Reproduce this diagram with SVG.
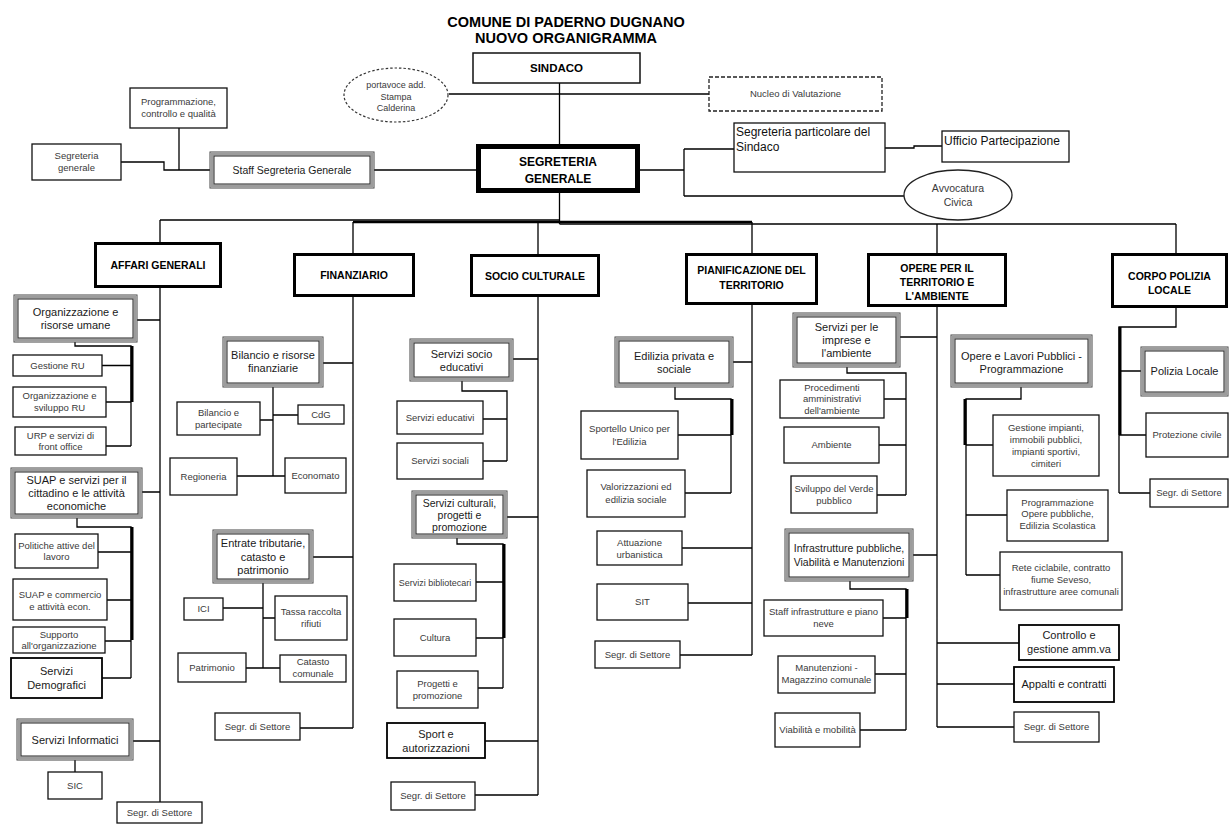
<svg xmlns="http://www.w3.org/2000/svg" width="1231" height="825" viewBox="0 0 1231 825">
<style>
text{font-family:"Liberation Sans",Arial,sans-serif;text-anchor:middle}
.s{font-size:9.5px;fill:#3a3a3a}
.m{font-size:11px;fill:#1a1a1a}
.h{font-size:10.5px;font-weight:bold;fill:#000}
.l{text-anchor:start;font-size:12px;fill:#111}
.b{fill:#fff;stroke:#111;stroke-width:1.3}
.k{fill:#fff;stroke:#000;stroke-width:1.8}
.d{fill:#fff;stroke:#000;stroke-width:3}
.g1{fill:#fff;stroke:#444;stroke-width:1}
.g2{fill:none;stroke:#9c9c9c;stroke-width:3}
.g3{fill:none;stroke:#222;stroke-width:1}
.c{fill:none;stroke:#000;stroke-width:1.3}
.ct{fill:none;stroke:#000;stroke-width:3}
</style>
<rect width="1231" height="825" fill="#fff"/>
<g id="connectors">
<path class="c" d="M559.5 83V146M449 94H709M121 162H164V170H210M179 128V170M374 170H476M640 170H684M684 149V196M684 149H734M684 196H904M885 148H914V146H942"/>
<path class="c" d="M559.5 193V224M160 220H559.5M559.5 224H1176"/>
<path class="c" style="stroke-width:2.6" d="M353 222H752"/>
<path class="c" d="M160 220V242M353 222V253M538 222V254M752 222V253M937 224V253M1176 224V253"/>
<path class="c" d="M160 288V802M137 320H160M75 342V346H131V446M102 365.5H131M106 402H131M106 446H131M142 492H160M77 518V527H131V678M98 552H131M107 600H131M105 641H131M102 678H131M133 741H160M75 760V772"/>
<path class="ct" d="M132 346V402M132 527V640"/>
<path class="c" d="M353 297V728M323 363H353M273 387V476M260 420H273M273 415H298M237 476H285M313 557H353M263 583V668M223 608H263M263 618H275M246 668H280M300 728H353"/>
<path class="c" d="M538 297V795M513 359H538M462 381V391H507V461M483 419H507M483 461H507M507 517H538M457 538V544H503V688M476 582H503M476 638H503M478 688H503M485 741H538M475 795H538"/>
<path class="ct" d="M504 544V638"/>
<path class="c" d="M752 305V655M733 362H752M675 387V399H731V493M678 435H731M685 493H731M682 548H752M688 603H752M680 655H752"/>
<path class="ct" d="M732 399V435"/>
<path class="c" d="M937 307V727M900 337H937M847 367V373H906V495M884 399H906M879 445H906M877 495H906M913 555H937M850 581V589H906V730M883 618H906M875 674H906M860 730H906M937 643H1019M937 684H1014M937 727H1014"/>
<path class="ct" d="M907 589V618"/>
<path class="c" d="M1021 387V399H966V575M966 445H993M966 515H1007M966 575H1000"/>
<path class="ct" d="M965 399V445"/>
<path class="c" d="M1176 308V327H1119V493M1119 371H1141M1119 435H1146M1119 493H1150"/>
<path class="ct" d="M1120 327V435"/>
</g>
<g id="title"><text x="566" y="27" style="font-size:14.5px;font-weight:bold">COMUNE DI PADERNO DUGNANO</text><text x="566" y="43" style="font-size:14.5px;font-weight:bold">NUOVO ORGANIGRAMMA</text></g>
<g id="sindaco"><rect class="b" x="473" y="53" width="167" height="30" style="stroke-width:1.5"/><text class="h" x="556.5" y="72" style="font-size:11.5px">SINDACO</text></g>
<g id="portavoce"><ellipse cx="396" cy="95" rx="52" ry="27" fill="#fff" stroke="#333" stroke-width="1.2" stroke-dasharray="2.5,2"/><text class="s" style="font-size:9px" x="396" y="88">portavoce add.</text><text class="s" style="font-size:9px" x="396" y="100">Stampa</text><text class="s" style="font-size:9px" x="396" y="111">Calderina</text></g>
<g id="nucleo"><rect x="709" y="77" width="173" height="34" fill="#fff" stroke="#222" stroke-width="1.3" stroke-dasharray="4,2"/><text class="s" x="795.5" y="97.3">Nucleo di Valutazione</text></g>
<g id="programmazione"><rect class="b" x="130" y="88" width="97" height="40"/><text class="s" x="178.5" y="105.3">Programmazione,</text><text class="s" x="178.5" y="117.3">controllo e qualità</text></g>
<g id="segreteria-generale-staff"><rect class="b" x="32" y="144" width="89" height="36"/><text class="s" x="76.5" y="159.3">Segreteria</text><text class="s" x="76.5" y="171.3">generale</text></g>
<g id="staff"><rect class="g1" x="210" y="152" width="164" height="36"/><rect class="g2" x="212" y="154" width="160" height="32"/><rect class="g3" x="214" y="156" width="156" height="28"/><text class="m" style="font-size:10.5px" x="292" y="173.7">Staff Segreteria Generale</text></g>
<g id="segreteria"><rect x="478.5" y="146.5" width="159" height="44" fill="#fff" stroke="#000" stroke-width="5"/><text class="h" style="font-size:12px" x="558" y="165.5">SEGRETERIA</text><text class="h" style="font-size:12px" x="558" y="183">GENERALE</text></g>
<g id="segr-particolare"><rect class="b" x="734" y="123" width="151" height="49"/><text class="l" x="736" y="136">Segreteria particolare del</text><text class="l" x="736" y="151">Sindaco</text></g>
<g id="ufficio-partecipazione"><rect class="b" x="942" y="131" width="127" height="31"/><text class="l" x="944" y="144.5">Ufficio Partecipazione</text></g>
<g id="avvocatura"><ellipse cx="958" cy="195" rx="54" ry="25" fill="#fff" stroke="#222" stroke-width="1.3"/><text class="s" style="font-size:10.5px" x="958" y="192">Avvocatura</text><text class="s" style="font-size:10.5px" x="958" y="206">Civica</text></g>

<g id="affari-generali"><rect class="d" x="95.5" y="243.5" width="125" height="43"/><text class="h" x="158" y="269">AFFARI GENERALI</text></g>
<g id="org-risorse"><rect class="g1" x="14" y="295" width="123" height="47"/><rect class="g2" x="16" y="297" width="119" height="43"/><rect class="g3" x="18" y="299" width="115" height="39"/><text class="m" x="75.5" y="316">Organizzazione e</text><text class="m" x="75.5" y="329">risorse umane</text></g>
<g id="gestione-ru"><rect class="b" x="13" y="355" width="89" height="21"/><text class="s" x="57.5" y="368.8">Gestione RU</text></g>
<g id="org-sviluppo"><rect class="b" x="13" y="387" width="93" height="30"/><text class="s" x="59.5" y="399.3">Organizzazione e</text><text class="s" x="59.5" y="411.3">sviluppo RU</text></g>
<g id="urp"><rect class="b" x="15" y="427" width="91" height="28"/><text class="s" x="60.5" y="438.5">URP e servizi di</text><text class="s" x="60.5" y="450">front office</text></g>
<g id="suap-servizi"><rect class="g1" x="11" y="468" width="131" height="50"/><rect class="g2" x="13" y="470" width="127" height="46"/><rect class="g3" x="15" y="472" width="123" height="42"/><text class="m" x="76.5" y="484">SUAP e servizi per il</text><text class="m" x="76.5" y="497">cittadino e le attività</text><text class="m" x="76.5" y="510">economiche</text></g>
<g id="politiche"><rect class="b" x="15" y="534" width="83" height="34"/><text class="s" x="56.5" y="548.5">Politiche attive del</text><text class="s" x="56.5" y="560">lavoro</text></g>
<g id="suap-commercio"><rect class="b" x="13" y="579" width="94" height="41"/><text class="s" x="60" y="597.5">SUAP e commercio</text><text class="s" x="60" y="609.5">e attività econ.</text></g>
<g id="supporto"><rect class="b" x="13" y="627" width="92" height="26"/><text class="s" x="59" y="638">Supporto</text><text class="s" x="59" y="649.3">all'organizzazione</text></g>
<g id="demografici"><rect class="k" x="11" y="658" width="91" height="40"/><text class="m" x="56.5" y="675">Servizi</text><text class="m" x="56.5" y="689">Demografici</text></g>
<g id="servizi-informatici"><rect class="g1" x="17" y="719" width="116" height="41"/><rect class="g2" x="19" y="721" width="112" height="37"/><rect class="g3" x="21" y="723" width="108" height="33"/><text class="m" x="75" y="743.9">Servizi Informatici</text></g>
<g id="sic"><rect class="b" x="48" y="772" width="54" height="27"/><text class="s" x="75" y="788.8">SIC</text></g>
<g id="segr-ag"><rect class="b" x="117" y="802" width="85" height="21"/><text class="s" x="159.5" y="815.8">Segr. di Settore</text></g>

<g id="finanziario"><rect class="d" x="294.5" y="254.5" width="119" height="41"/><text class="h" x="354" y="279">FINANZIARIO</text></g>
<g id="bilancio-risorse"><rect class="g1" x="223" y="337" width="100" height="50"/><rect class="g2" x="225" y="339" width="96" height="46"/><rect class="g3" x="227" y="341" width="92" height="42"/><text class="m" x="273" y="359">Bilancio e risorse</text><text class="m" x="273" y="372">finanziarie</text></g>
<g id="bilancio-partecipate"><rect class="b" x="177" y="402" width="83" height="33"/><text class="s" x="218.5" y="416.3">Bilancio e</text><text class="s" x="218.5" y="428.3">partecipate</text></g>
<g id="cdg"><rect class="b" x="298" y="405" width="46" height="19"/><text class="s" x="321" y="417.8">CdG</text></g>
<g id="regioneria"><rect class="b" x="170" y="458" width="67" height="37"/><text class="s" x="203.5" y="479.8">Regioneria</text></g>
<g id="economato"><rect class="b" x="285" y="458" width="61" height="35"/><text class="s" x="315.5" y="478.8">Economato</text></g>
<g id="entrate"><rect class="g1" x="213" y="530" width="100" height="53"/><rect class="g2" x="215" y="532" width="96" height="49"/><rect class="g3" x="217" y="534" width="92" height="45"/><text class="m" x="263" y="547">Entrate tributarie,</text><text class="m" x="263" y="560.5">catasto e</text><text class="m" x="263" y="574">patrimonio</text></g>
<g id="ici"><rect class="b" x="184" y="598" width="39" height="22"/><text class="s" x="203.5" y="612.3">ICI</text></g>
<g id="tassa"><rect class="b" x="275" y="596" width="72" height="44"/><text class="s" x="311" y="615.3">Tassa raccolta</text><text class="s" x="311" y="627.3">rifiuti</text></g>
<g id="patrimonio"><rect class="b" x="178" y="653" width="68" height="29"/><text class="s" x="212" y="670.8">Patrimonio</text></g>
<g id="catasto"><rect class="b" x="280" y="655" width="66" height="27"/><text class="s" x="313" y="665.3">Catasto</text><text class="s" x="313" y="677">comunale</text></g>
<g id="segr-fin"><rect class="b" x="215" y="713" width="85" height="27"/><text class="s" x="257.5" y="729.8">Segr. di Settore</text></g>

<g id="socio-culturale"><rect class="d" x="471.5" y="255.5" width="127" height="40"/><text class="h" x="535" y="280">SOCIO CULTURALE</text></g>
<g id="socio-educativi"><rect class="g1" x="410" y="339" width="103" height="42"/><rect class="g2" x="412" y="341" width="99" height="38"/><rect class="g3" x="414" y="343" width="95" height="34"/><text class="m" x="461.5" y="357.5">Servizi socio</text><text class="m" x="461.5" y="370.5">educativi</text></g>
<g id="servizi-educativi"><rect class="b" x="397" y="401" width="86" height="33"/><text class="s" x="440" y="420.8">Servizi educativi</text></g>
<g id="servizi-sociali"><rect class="b" x="397" y="443" width="86" height="36"/><text class="s" x="440" y="464.3">Servizi sociali</text></g>
<g id="servizi-culturali"><rect class="g1" x="412" y="491" width="95" height="47"/><rect class="g2" x="414" y="493" width="91" height="43"/><rect class="g3" x="416" y="495" width="87" height="39"/><text class="m" style="font-size:10.5px" x="459.5" y="506.7">Servizi culturali,</text><text class="m" style="font-size:10.5px" x="459.5" y="518.7">progetti e</text><text class="m" style="font-size:10.5px" x="459.5" y="530.7">promozione</text></g>
<g id="biblioteche"><rect class="b" x="394" y="564" width="82" height="37"/><text class="s" style="font-size:9px" x="435" y="585.7">Servizi bibliotecari</text></g>
<g id="cultura"><rect class="b" x="394" y="619" width="82" height="37"/><text class="s" x="435" y="640.8">Cultura</text></g>
<g id="progetti"><rect class="b" x="397" y="671" width="81" height="37"/><text class="s" x="437.5" y="686.8">Progetti e</text><text class="s" x="437.5" y="698.8">promozione</text></g>
<g id="sport"><rect class="k" x="387" y="723" width="98" height="35"/><text class="m" x="436" y="738">Sport e</text><text class="m" x="436" y="751.5">autorizzazioni</text></g>
<g id="segr-socio"><rect class="b" x="391" y="782" width="84" height="28"/><text class="s" x="433" y="799.3">Segr. di Settore</text></g>

<g id="pianificazione"><rect class="d" x="686.5" y="254.5" width="130" height="49"/><text class="h" x="751.5" y="274">PIANIFICAZIONE DEL</text><text class="h" x="751.5" y="289">TERRITORIO</text></g>
<g id="edilizia"><rect class="g1" x="615" y="337" width="118" height="50"/><rect class="g2" x="617" y="339" width="114" height="46"/><rect class="g3" x="619" y="341" width="110" height="42"/><text class="m" x="674" y="359.5">Edilizia privata e</text><text class="m" x="674" y="372.5">sociale</text></g>
<g id="sportello"><rect class="b" x="581" y="411" width="97" height="48"/><text class="s" x="629.5" y="432">Sportello Unico per</text><text class="s" x="629.5" y="444.5">l'Edilizia</text></g>
<g id="valorizzazioni"><rect class="b" x="587" y="470" width="98" height="47"/><text class="s" x="636" y="490">Valorizzazioni ed</text><text class="s" x="636" y="502.5">edilizia sociale</text></g>
<g id="attuazione"><rect class="b" x="597" y="531" width="85" height="34"/><text class="s" x="639.5" y="545.5">Attuazione</text><text class="s" x="639.5" y="557.5">urbanistica</text></g>
<g id="sit"><rect class="b" x="597" y="584" width="91" height="36"/><text class="s" x="642.5" y="605.3">SIT</text></g>
<g id="segr-pian"><rect class="b" x="595" y="641" width="85" height="27"/><text class="s" x="637.5" y="657.8">Segr. di Settore</text></g>

<g id="opere"><rect class="d" x="868.5" y="254.5" width="137" height="51"/><text class="h" x="937" y="272">OPERE PER IL</text><text class="h" x="937" y="286">TERRITORIO E</text><text class="h" x="937" y="300">L'AMBIENTE</text></g>
<g id="servizi-imprese"><rect class="g1" x="793" y="313" width="107" height="54"/><rect class="g2" x="795" y="315" width="103" height="50"/><rect class="g3" x="797" y="317" width="99" height="46"/><text class="m" x="846.5" y="331">Servizi per le</text><text class="m" x="846.5" y="344">imprese e</text><text class="m" x="846.5" y="357">l'ambiente</text></g>
<g id="procedimenti"><rect class="b" x="780" y="380" width="104" height="38"/><text class="s" x="832" y="391">Procedimenti</text><text class="s" x="832" y="402.3">amministrativi</text><text class="s" x="832" y="413.6">dell'ambiente</text></g>
<g id="ambiente"><rect class="b" x="784" y="427" width="95" height="36"/><text class="s" x="831.5" y="448.3">Ambiente</text></g>
<g id="verde"><rect class="b" x="791" y="476" width="86" height="37"/><text class="s" x="834" y="491.5">Sviluppo del Verde</text><text class="s" x="834" y="503.5">pubblico</text></g>
<g id="infrastrutture"><rect class="g1" x="785" y="529" width="128" height="52"/><rect class="g2" x="787" y="531" width="124" height="48"/><rect class="g3" x="789" y="533" width="120" height="44"/><text class="m" style="font-size:10.5px" x="849" y="552">Infrastrutture pubbliche,</text><text class="m" style="font-size:10.5px" x="849" y="566">Viabilità e Manutenzioni</text></g>
<g id="staff-infrastrutture"><rect class="b" x="764" y="600" width="119" height="36"/><text class="s" x="823.5" y="615.3">Staff infrastrutture e piano</text><text class="s" x="823.5" y="627.3">neve</text></g>
<g id="manutenzioni"><rect class="b" x="778" y="656" width="97" height="37"/><text class="s" x="826.5" y="671.3">Manutenzioni -</text><text class="s" x="826.5" y="683.3">Magazzino comunale</text></g>
<g id="viabilita"><rect class="b" x="775" y="713" width="85" height="34"/><text class="s" x="817.5" y="733.3">Viabilità e mobilità</text></g>
<g id="opere-lavori"><rect class="g1" x="951" y="335" width="141" height="52"/><rect class="g2" x="953" y="337" width="137" height="48"/><rect class="g3" x="955" y="339" width="133" height="44"/><text class="m" x="1021.5" y="359.5">Opere e Lavori Pubblici -</text><text class="m" x="1021.5" y="372.5">Programmazione</text></g>
<g id="gestione-impianti"><rect class="b" x="993" y="415" width="106" height="61"/><text class="s" x="1046" y="431">Gestione impianti,</text><text class="s" x="1046" y="443">immobili pubblici,</text><text class="s" x="1046" y="455">impianti sportivi,</text><text class="s" x="1046" y="467">cimiteri</text></g>
<g id="programmazione-opere"><rect class="b" x="1007" y="490" width="101" height="51"/><text class="s" x="1057.5" y="505.5">Programmazione</text><text class="s" x="1057.5" y="517">Opere pubbliche,</text><text class="s" x="1057.5" y="528.5">Edilizia Scolastica</text></g>
<g id="rete-ciclabile"><rect class="b" x="1000" y="552" width="122" height="58"/><text class="s" x="1061" y="571">Rete ciclabile, contratto</text><text class="s" x="1061" y="583">fiume Seveso,</text><text class="s" x="1061" y="595">infrastrutture aree comunali</text></g>
<g id="controllo"><rect class="k" x="1019" y="625" width="100" height="35"/><text class="m" x="1069" y="639">Controllo e</text><text class="m" x="1069" y="653">gestione amm.va</text></g>
<g id="appalti"><rect class="k" x="1014" y="667" width="100" height="35"/><text class="m" x="1064" y="688.4">Appalti e contratti</text></g>
<g id="segr-opere"><rect class="b" x="1014" y="712" width="85" height="30"/><text class="s" x="1056.5" y="730.3">Segr. di Settore</text></g>

<g id="polizia"><rect class="d" x="1112.5" y="254.5" width="114" height="52"/><text class="h" x="1169.5" y="280">CORPO POLIZIA</text><text class="h" x="1169.5" y="294">LOCALE</text></g>
<g id="polizia-locale"><rect class="g1" x="1141" y="347" width="87" height="49"/><rect class="g2" x="1143" y="349" width="83" height="45"/><rect class="g3" x="1145" y="351" width="79" height="41"/><text class="m" x="1184.5" y="375.4">Polizia Locale</text></g>
<g id="protezione-civile"><rect class="b" x="1146" y="413" width="82" height="44"/><text class="s" x="1187" y="438.3">Protezione civile</text></g>
<g id="segr-polizia"><rect class="b" x="1150" y="479" width="78" height="28"/><text class="s" x="1189" y="496.3">Segr. di Settore</text></g>
</svg>
